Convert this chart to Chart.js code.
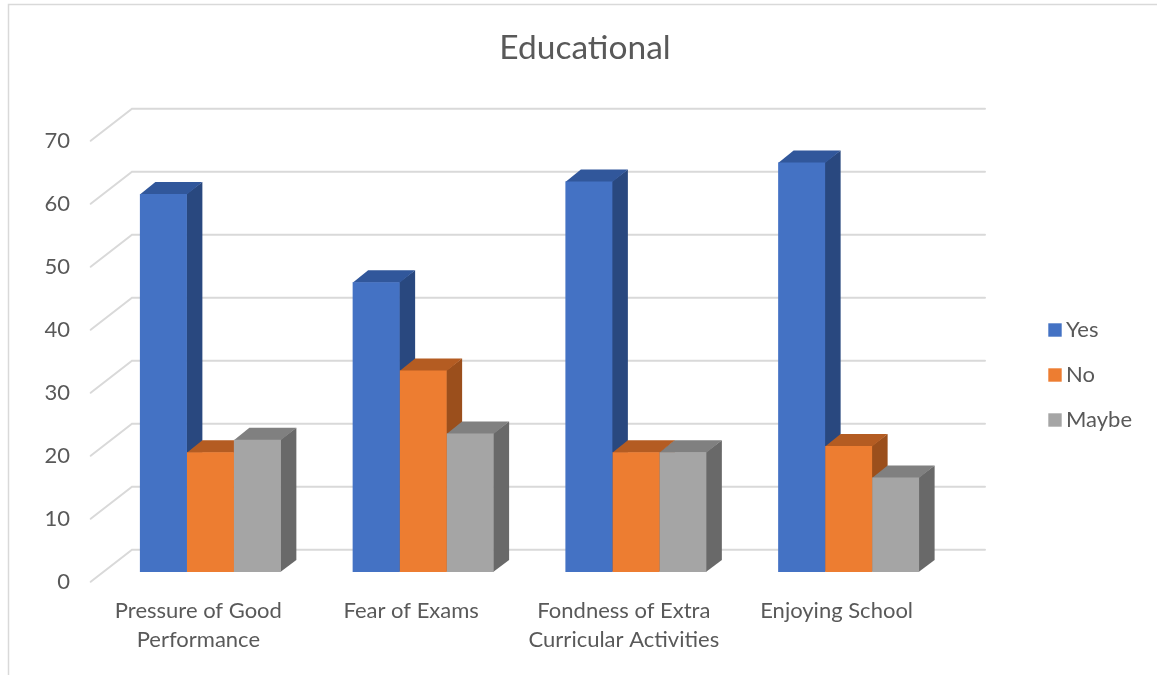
<!DOCTYPE html>
<html><head><meta charset="utf-8">
<script src="https://cdn.jsdelivr.net/npm/chart.js@4/dist/chart.umd.min.js"></script>
<style>html,body{margin:0;padding:0;background:#fff}#wrap{width:1157px;height:675px;position:relative}</style>
</head><body><div id="wrap"><canvas id="c" width="1157" height="675"></canvas></div>
<script>
const chartTitle = 'Educational';
const categories = [['Pressure of Good','Performance'], 'Fear of Exams', ['Fondness of Extra','Curricular Activities'], 'Enjoying School'];
const seriesNames = ['Yes', 'No', 'Maybe'];
const yesValues = [60, 46, 62, 65];
const noValues = [19, 32, 19, 20];
const maybeValues = [21, 22, 19, 15];
const yTickMin = 0, yTickMax = 70, yTickStep = 10;

const FONT = 'Lato, "Open Sans", sans-serif';
const TXT = '#595959';
const frontColors = ['#4472C4', '#ED7D31', '#A5A5A5'];
const topColors = ['#31579B', '#B45C22', '#808080'];
const sideColors = ['#29487F', '#9B4F1C', '#696969'];
const DX = 15.5, DY = -12;

const excel3d = {
  id: 'excel3d',
  beforeDraw(chart) {
    const ctx = chart.ctx, a = chart.chartArea, ys = chart.scales.y;
    ctx.save();
    ctx.strokeStyle = '#D9D9D9'; ctx.lineWidth = 1.5;
    ctx.beginPath(); ctx.moveTo(8.5, 700); ctx.lineTo(8.5, 4.5); ctx.lineTo(1200, 4.5); ctx.stroke();
    ctx.fillStyle = TXT; ctx.font = '33.5px ' + FONT; ctx.textAlign = 'center'; ctx.textBaseline = 'alphabetic';
    ctx.fillText(chartTitle, 585, 58.5);
    ctx.strokeStyle = '#D9D9D9'; ctx.lineWidth = 2; ctx.lineCap = 'round';
    ys.ticks.forEach(t => {
      const py = ys.getPixelForValue(t.value);
      const by = py - 22.3;
      const fy = py + 9.8;
      ctx.beginPath();
      ctx.moveTo(a.left - 13.3, fy);
      ctx.lineTo(a.left + 28, by);
      ctx.lineTo(a.right + 30, by);
      ctx.stroke();
    });
    ctx.restore();
  },
  beforeDatasetsDraw(chart) {
    const ctx = chart.ctx;
    ctx.save();
    chart.data.datasets.forEach((ds, di) => {
      const meta = chart.getDatasetMeta(di);
      meta.data.forEach(el => {
        const p = el.getProps(['x', 'y', 'base', 'width'], true);
        const l = p.x - p.width / 2, r = p.x + p.width / 2, t = p.y, b = p.base;
        ctx.fillStyle = sideColors[di];
        ctx.beginPath();
        ctx.moveTo(r - 0.5, t); ctx.lineTo(r + DX, t + DY); ctx.lineTo(r + DX, b + DY); ctx.lineTo(r - 0.5, b);
        ctx.closePath(); ctx.fill();
        ctx.fillStyle = topColors[di];
        ctx.beginPath();
        ctx.moveTo(l, t + 0.5); ctx.lineTo(l + DX, t + DY); ctx.lineTo(r + DX, t + DY); ctx.lineTo(r, t + 0.5);
        ctx.closePath(); ctx.fill();
      });
    });
    ctx.restore();
  },
  afterDraw(chart) {
    const ctx = chart.ctx;
    ctx.save();
    ctx.font = '22px ' + FONT; ctx.textAlign = 'left'; ctx.textBaseline = 'alphabetic';
    chart.data.datasets.forEach((ds, i) => {
      const cy = 330 + i * 45;
      ctx.fillStyle = ds.backgroundColor;
      ctx.fillRect(1048.3, cy - 6.7, 13.4, 13.4);
      ctx.fillStyle = TXT;
      ctx.fillText(ds.label, 1066, cy + 6.7);
    });
    ctx.restore();
  }
};

new Chart(document.getElementById('c'), {
  type: 'bar',
  data: {
    labels: categories,
    datasets: [
      { label: seriesNames[0], data: yesValues, backgroundColor: frontColors[0] },
      { label: seriesNames[1], data: noValues, backgroundColor: frontColors[1] },
      { label: seriesNames[2], data: maybeValues, backgroundColor: frontColors[2] }
    ]
  },
  options: {
    responsive: false,
    animation: false,
    devicePixelRatio: 1,
    events: [],
    layout: { padding: { top: 131, right: 202, left: 0, bottom: 0 } },
    datasets: { bar: { categoryPercentage: 0.6626, barPercentage: 1, borderWidth: 0 } },
    plugins: { legend: { display: false }, title: { display: false }, tooltip: { enabled: false } },
    scales: {
      x: {
        grid: { display: false, drawTicks: false },
        border: { display: false },
        ticks: { color: TXT, font: { family: FONT, size: 22, lineHeight: 1.33 }, padding: 24, labelOffset: -12, maxRotation: 0, autoSkip: false },
        afterFit: s => { s.height = 103; }
      },
      y: {
        min: yTickMin, max: yTickMax,
        grid: { display: false, drawTicks: false },
        border: { display: false },
        ticks: { stepSize: yTickStep, color: TXT, font: { family: FONT, size: 22 }, padding: 34, labelOffset: 9.5 },
        afterFit: s => { s.width = 104; }
      }
    }
  },
  plugins: [excel3d]
});
</script>
</body></html>
